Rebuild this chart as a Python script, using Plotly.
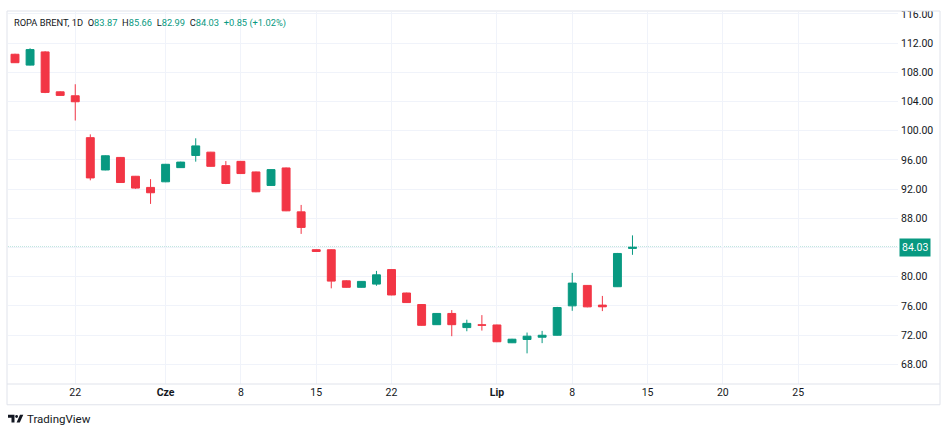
import plotly.graph_objects as go

# ---- data ----
bar_index = list(range(42))
opens = [110.48, 108.99, 110.80, 105.33, 104.79, 99.05, 94.62, 96.34, 93.76, 92.23,
         93.00, 94.94, 96.61, 97.06, 95.21, 95.80, 94.35, 92.50, 94.90, 88.88,
         83.70, 83.69, 79.43, 78.54, 78.98, 80.97, 77.76, 76.18, 73.42, 74.96,
         73.02, 73.40, 73.38, 70.94, 71.39, 71.70, 71.97, 76.00, 78.80, 76.10,
         78.62, 83.87]
highs = [110.55, 111.30, 110.90, 105.40, 106.37, 99.50, 96.62, 96.40, 93.80, 93.36,
         95.45, 95.75, 98.96, 97.10, 95.84, 95.85, 94.40, 94.72, 94.95, 89.83,
         83.75, 83.75, 79.50, 79.40, 80.79, 81.00, 77.80, 76.25, 75.00, 75.42,
         74.10, 74.73, 73.42, 71.48, 72.34, 72.57, 75.86, 80.52, 78.85, 77.36,
         83.25, 85.66]
lows = [109.28, 108.95, 105.15, 104.80, 101.40, 93.20, 94.58, 92.85, 92.04, 89.97,
        92.95, 94.90, 95.76, 95.08, 92.68, 94.08, 91.58, 92.45, 88.98, 85.86,
        83.40, 78.40, 78.50, 78.50, 78.75, 77.45, 76.40, 73.28, 73.38, 71.84,
        72.52, 72.61, 71.03, 70.90, 69.49, 70.89, 71.93, 75.32, 75.80, 75.28,
        78.58, 82.99]
closes = [109.32, 111.12, 105.25, 104.84, 103.97, 93.53, 96.57, 92.90, 92.14, 91.50,
          95.40, 95.70, 97.92, 95.12, 92.77, 94.13, 91.63, 94.67, 89.02, 86.75,
          83.45, 79.39, 78.54, 79.35, 80.25, 77.49, 76.45, 73.33, 74.96, 73.42,
          73.60, 73.35, 71.08, 71.43, 71.84, 71.97, 75.77, 79.12, 75.86, 75.87,
          83.18, 84.03]

tick_positions = [4, 10, 15, 20, 25, 32, 37, 42, 47, 52]
tick_labels = ["22", "<b>Cze</b>", "8", "15", "22", "<b>Lip</b>", "8", "15", "20", "25"]
price_ticks = [68, 72, 76, 80, 84, 88, 92, 96, 100, 104, 108, 112, 116]
symbol = "ROPA BRENT, 1D"

# ---- style ----
UP = "#089981"
DOWN = "#F23645"
TXT = "#131722"
GRID = "#f0f3fa"
BORDER = "#e0e3eb"
FONT = "Roboto"

W, H = 948, 433
L, R, T, B = 8, 50, 8, 49
pw, ph = W - L - R, H - T - B


def px_x(px):
    return (px - L) / pw


def px_y(py):
    return (H - B - py) / ph


fig = go.Figure()
fig.add_trace(go.Candlestick(
    x=bar_index, open=opens, high=highs, low=lows, close=closes,
    increasing=dict(line=dict(color=UP, width=1), fillcolor=UP),
    decreasing=dict(line=dict(color=DOWN, width=1), fillcolor=DOWN),
    whiskerwidth=0, hoverinfo="skip", showlegend=False,
))

last = closes[-1]
chg = closes[-1] - closes[-2]
pct = chg / closes[-2] * 100
nb = "\u00a0"
sep = nb * 2
g = lambda s: f"<span style='color:{UP}'>{s}</span>"
header = sep.join([
    symbol,
    f"O{g(f'{opens[-1]:.2f}')}",
    f"H{g(f'{highs[-1]:.2f}')}",
    f"L{g(f'{lows[-1]:.2f}')}",
    f"C{g(f'{closes[-1]:.2f}')}",
    g(f"{chg:+.2f}{nb}({pct:+.2f}%)"),
])

shapes = [
    dict(type="line", xref="paper", yref="y", x0=0, x1=1, y0=last, y1=last,
         line=dict(color=UP, width=1, dash="1px,1px"), layer="below"),
    dict(type="rect", xref="paper", yref="paper", x0=px_x(0), x1=px_x(W), y0=px_y(7), y1=px_y(0),
         fillcolor="white", line=dict(width=0), layer="above"),
    dict(type="rect", xref="paper", yref="paper", x0=px_x(7), x1=px_x(940), y0=px_y(405), y1=px_y(7),
         line=dict(color=BORDER, width=1), layer="above"),
    dict(type="line", xref="paper", yref="paper", x0=px_x(7), x1=px_x(940), y0=px_y(384), y1=px_y(384),
         line=dict(color=BORDER, width=1), layer="above"),
]


def path_from_px(points):
    return "M " + " L ".join(f"{px_x(a):.5f},{px_y(b):.5f}" for a, b in points) + " Z"


shapes += [
    dict(type="path", xref="paper", yref="paper",
         path=path_from_px([(8, 415), (14.5, 415), (14.5, 423), (11.5, 423), (11.5, 418), (8, 418)]),
         fillcolor=TXT, line=dict(width=0)),
    dict(type="circle", xref="paper", yref="paper", x0=px_x(15.2), x1=px_x(18), y0=px_y(418.4), y1=px_y(415.4),
         fillcolor=TXT, line=dict(width=0)),
    dict(type="path", xref="paper", yref="paper",
         path=path_from_px([(20, 415), (23.3, 415), (19.8, 423), (16.6, 423)]),
         fillcolor=TXT, line=dict(width=0)),
]

annotations = [
    dict(xref="paper", yref="paper", x=px_x(13), y=px_y(19), xanchor="left", yanchor="middle",
         text=header, showarrow=False, borderpad=0, font=dict(family=FONT, size=9.3, color=TXT)),
    dict(xref="paper", yref="y", x=px_x(899), y=last, xanchor="left", yanchor="middle",
         text=f"{last:.2f}", showarrow=False, bgcolor=UP, borderpad=2,
         font=dict(family=FONT, size=10.5, color="white")),
    dict(xref="paper", yref="paper", x=px_x(25), y=px_y(419), xanchor="left", yanchor="middle",
         text="TradingView", showarrow=False, font=dict(family=FONT, size=11.5, color=TXT)),
]

fig.update_layout(
    width=W, height=H, autosize=False,
    margin=dict(l=L, r=R, t=T, b=B, pad=0),
    paper_bgcolor="white", plot_bgcolor="white",
    shapes=shapes, annotations=annotations,
    boxgap=0.25,
    xaxis=dict(range=[-0.465, 58.63], tickvals=tick_positions, ticktext=tick_labels,
               showgrid=True, gridcolor=GRID, gridwidth=1, zeroline=False, showline=False,
               ticks="", rangeslider=dict(visible=False), fixedrange=True,
               tickfont=dict(family=FONT, size=10.5, color=TXT)),
    yaxis=dict(range=[65.29, 116.27], side="right", tickvals=price_ticks,
               ticktext=["" if v == 84 else f"{v:.2f}" for v in price_ticks],
               showgrid=True, gridcolor=GRID, gridwidth=1, zeroline=False, showline=False,
               ticks="", fixedrange=True, ticklabelstandoff=2,
               tickfont=dict(family=FONT, size=10.5, color=TXT)),
    font=dict(family=FONT, color=TXT),
    hovermode=False,
)

fig.write_html("out.html", config={"displayModeBar": False},
               post_script="document.body.style.margin='0';")
